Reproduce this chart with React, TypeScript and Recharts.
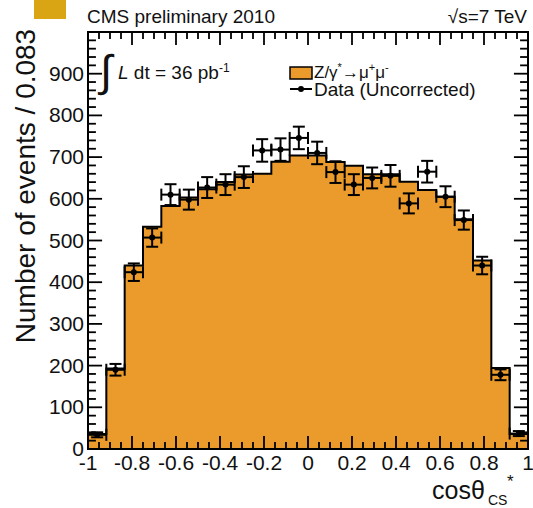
import { ComposedChart, Area, Scatter, ErrorBar, XAxis, YAxis, ReferenceArea, ReferenceLine } from 'recharts';

// bin edges of cos(theta*) in 24 bins of 0.083
const binEdges = [
  -1, -0.9167, -0.8333, -0.75, -0.6667, -0.5833, -0.5, -0.4167, -0.3333, -0.25, -0.1667, -0.0833,
  0, 0.0833, 0.1667, 0.25, 0.3333, 0.4167, 0.5, 0.5833, 0.6667, 0.75, 0.8333, 0.9167, 1,
];
// Z/gamma* -> mu mu simulation (filled histogram)
const mcCounts = [36, 193, 440, 533, 583, 603, 623, 640, 658, 660, 689, 704, 704, 688, 679, 659, 659, 641, 621, 605, 551, 452, 194, 36];
// data (uncorrected)
const dataCounts = [34, 190, 424, 507, 610, 598, 627, 634, 652, 716, 718, 746, 710, 664, 634, 650, 655, 589, 665, 605, 549, 440, 178, 37];
const dataErrors = [6, 14, 21, 22, 25, 24, 25, 25, 26, 27, 27, 27, 27, 26, 25, 25, 26, 24, 26, 25, 23, 21, 13, 6];

const xMajorTicks = [-1, -0.8, -0.6, -0.4, -0.2, 0, 0.2, 0.4, 0.6, 0.8, 1];
const xTickLabels = ['-1', '-0.8', '-0.6', '-0.4', '-0.2', '0', '0.2', '0.4', '0.6', '0.8', '1'];
const yMajorTicks = [0, 100, 200, 300, 400, 500, 600, 700, 800, 900, 1000];
const yTickLabels = ['0', '100', '200', '300', '400', '500', '600', '700', '800', '900', ''];

const FILL = '#EB9B2C';
const FONT = '"Liberation Sans", Arial, Helvetica, sans-serif';
const INK = '#111';

const W = 533;
const H = 508;
const PLOT_LEFT = 88;
const PLOT_RIGHT = 528;
const PLOT_TOP = 32;
const PLOT_BOTTOM = 449;

const X_MIN = -1;
const X_MAX = 1;
const Y_MIN = 0;
const Y_MAX = 1000;
// tick lengths, expressed in axis units (ROOT style ticks inside the frame)
const X_TICK_MAJOR = 31;
const X_TICK_MINOR = 17;
const Y_TICK_MAJOR = 0.064;
const Y_TICK_MINOR = 0.036;

const histData = binEdges.map((x, i) => ({ x, h: mcCounts[Math.min(i, mcCounts.length - 1)] }));
const pointData = dataCounts.map((y, i) => ({
  x: (binEdges[i] + binEdges[i + 1]) / 2,
  y,
  ey: dataErrors[i],
  ex: (binEdges[i + 1] - binEdges[i]) / 2,
}));

const xMinorTicks = Array.from({ length: 41 }, (_, i) => Math.round((-1 + i * 0.05) * 100) / 100);
const yMinorTicks = Array.from({ length: 51 }, (_, i) => i * 20);
const isXMajor = (v: number) => xMajorTicks.some((t) => Math.abs(t - v) < 1e-6);
const isYMajor = (v: number) => yMajorTicks.includes(v);

function XTick(props: any) {
  const { x, payload } = props;
  const idx = xMajorTicks.findIndex((t) => Math.abs(t - payload.value) < 1e-6);
  if (idx < 0) return <g />;
  return (
    <text x={x} y={PLOT_BOTTOM + 21} textAnchor="middle" fontSize={21} fontFamily={FONT} fill={INK}>
      {xTickLabels[idx]}
    </text>
  );
}

function YTick(props: any) {
  const { y, payload } = props;
  const idx = yMajorTicks.indexOf(payload.value);
  if (idx < 0 || !yTickLabels[idx]) return <g />;
  return (
    <text x={PLOT_LEFT - 4} y={y + 7} textAnchor="end" fontSize={21} fontFamily={FONT} fill={INK}>
      {yTickLabels[idx]}
    </text>
  );
}

function Marker(props: any) {
  return <circle cx={props.cx} cy={props.cy} r={3} fill="#000" />;
}

export default function App() {
  const tickLines: any[] = [];
  xMinorTicks.forEach((v) => {
    const len = isXMajor(v) ? X_TICK_MAJOR : X_TICK_MINOR;
    tickLines.push(
      <ReferenceLine key={`xb${v}`} segment={[{ x: v, y: Y_MIN }, { x: v, y: Y_MIN + len }]} stroke="#000" strokeWidth={1.8} />,
      <ReferenceLine key={`xt${v}`} segment={[{ x: v, y: Y_MAX }, { x: v, y: Y_MAX - len }]} stroke="#000" strokeWidth={1.8} />,
    );
  });
  yMinorTicks.forEach((v) => {
    const len = isYMajor(v) ? Y_TICK_MAJOR : Y_TICK_MINOR;
    tickLines.push(
      <ReferenceLine key={`yl${v}`} segment={[{ x: X_MIN, y: v }, { x: X_MIN + len, y: v }]} stroke="#000" strokeWidth={1.8} />,
      <ReferenceLine key={`yr${v}`} segment={[{ x: X_MAX, y: v }, { x: X_MAX - len, y: v }]} stroke="#000" strokeWidth={1.8} />,
    );
  });

  return (
    <div style={{ position: 'absolute', left: 0, top: 0, width: W, height: H, background: '#fff' }}>
      <ComposedChart
        width={W}
        height={H}
        data={histData}
        margin={{ top: PLOT_TOP, right: W - PLOT_RIGHT, bottom: 0, left: 0 }}
      >
        <XAxis
          dataKey="x"
          type="number"
          domain={[X_MIN, X_MAX]}
          ticks={xMinorTicks}
          interval={0}
          tick={<XTick />}
          tickLine={false}
          tickSize={0}
          tickMargin={0}
          axisLine={false}
          height={H - PLOT_BOTTOM}
          allowDataOverflow
        />
        <YAxis
          type="number"
          domain={[Y_MIN, Y_MAX]}
          ticks={yMinorTicks}
          interval={0}
          tick={<YTick />}
          tickLine={false}
          tickSize={0}
          tickMargin={0}
          axisLine={false}
          width={PLOT_LEFT}
          allowDataOverflow
        />
        <Area
          type="stepAfter"
          dataKey="h"
          stroke="#000"
          strokeWidth={2}
          fill={FILL}
          fillOpacity={1}
          isAnimationActive={false}
        />
        <Scatter data={pointData} dataKey="y" shape={<Marker />} isAnimationActive={false}>
          <ErrorBar dataKey="ey" direction="y" width={6} stroke="#000" strokeWidth={2} />
          <ErrorBar dataKey="ex" direction="x" width={6} stroke="#000" strokeWidth={2} />
        </Scatter>
        {tickLines}
        <ReferenceArea x1={X_MIN} x2={X_MAX} y1={Y_MIN} y2={Y_MAX} fill="none" fillOpacity={0} stroke="#000" strokeWidth={2} />
      </ComposedChart>

      <svg
        width={W}
        height={H}
        style={{ position: 'absolute', left: 0, top: 0, pointerEvents: 'none' }}
        fontFamily={FONT}
        fill={INK}
      >
        <rect x={34} y={0} width={32} height={19} fill="#D9A514" />
        <text x={87} y={23} fontSize={19}>CMS preliminary 2010</text>
        <text x={527} y={23} fontSize={19} textAnchor="end">√s=7 TeV</text>

        <text x={25} y={186} fontSize={28} textAnchor="middle" transform="rotate(-90 25 186)" dominantBaseline="central">
          Number of events / 0.083
        </text>

        <text x={432} y={499} fontSize={25}>cosθ</text>
        <text x={488} y={505} fontSize={14}>CS</text>
        <text x={507} y={487} fontSize={17}>*</text>

        <text x={100} y={86} fontSize={44}>∫</text>
        <text x={118} y={79} fontSize={19}>
          <tspan fontStyle="italic">L</tspan> dt = 36 pb
          <tspan fontSize={12} dy={-7}>-1</tspan>
        </text>

        <rect x={290} y={67} width={22} height={12} fill={FILL} stroke="#000" strokeWidth={1.5} />
        <text x={314} y={78} fontSize={17}>
          Z/γ<tspan fontSize={11} dy={-7}>*</tspan>
          <tspan dy={7}>→μ</tspan>
          <tspan fontSize={11} dy={-7}>+</tspan>
          <tspan dy={7}>μ</tspan>
          <tspan fontSize={11} dy={-7}>-</tspan>
        </text>
        <line x1={290} x2={312} y1={89} y2={89} stroke="#000" strokeWidth={2} />
        <circle cx={301} cy={89} r={3} fill="#000" />
        <text x={314} y={96} fontSize={19}>Data (Uncorrected)</text>
      </svg>
    </div>
  );
}
